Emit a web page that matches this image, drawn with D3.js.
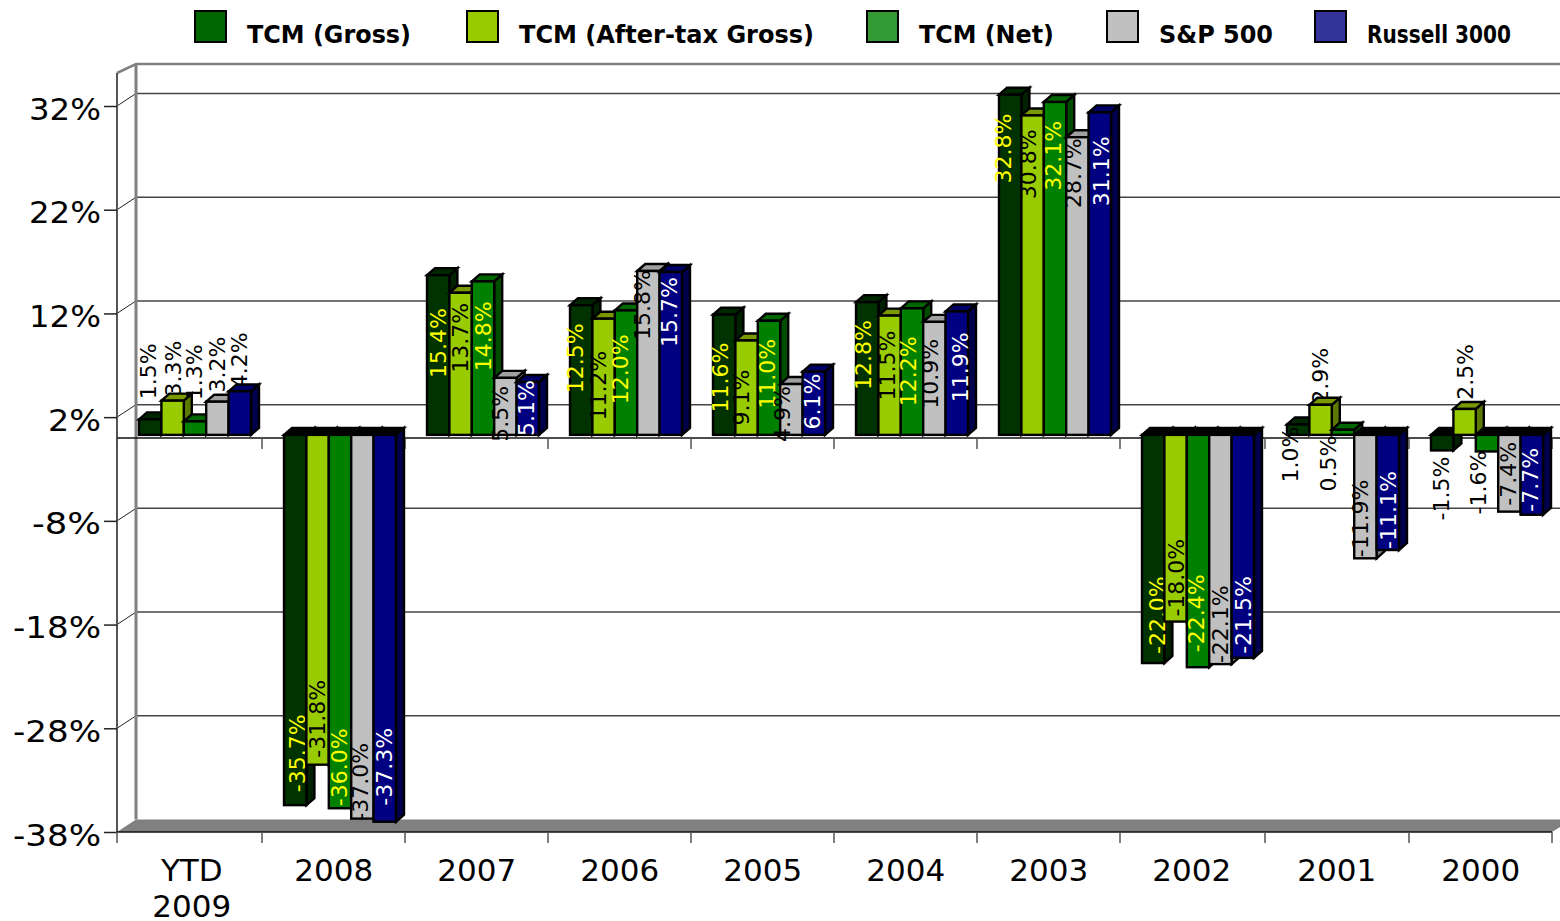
<!DOCTYPE html>
<html>
<head>
<meta charset="utf-8">
<script src="https://d3js.org/d3.v7.min.js"></script>
<style>
  html, body { margin: 0; padding: 0; background: #fff; overflow: hidden; }
  text { font-family: "DejaVu Sans", sans-serif; }
</style>
</head>
<body>
<svg id="chart" width="1560" height="921"></svg>
<script>
// data
const categories = ["YTD 2009", "2008", "2007", "2006", "2005", "2004", "2003", "2002", "2001", "2000"];
const seriesNames = ["TCM (Gross)", "TCM (After-tax Gross)", "TCM (Net)", "S&P 500", "Russell 3000"];
const tcmGross = [1.5, -35.7, 15.4, 12.5, 11.6, 12.8, 32.8, -22.0, 1.0, -1.5];
const tcmAfterTax = [3.3, -31.8, 13.7, 11.2, 9.1, 11.5, 30.8, -18.0, 2.9, 2.5];
const tcmNet = [1.3, -36.0, 14.8, 12.0, 11.0, 12.2, 32.1, -22.4, 0.5, -1.6];
const sp500 = [3.2, -37.0, 5.5, 15.8, 4.9, 10.9, 28.7, -22.1, -11.9, -7.4];
const russell3000 = [4.2, -37.3, 5.1, 15.7, 6.1, 11.9, 31.1, -21.5, -11.1, -7.7];
const seriesValues = [tcmGross, tcmAfterTax, tcmNet, sp500, russell3000];
const yTicks = [32, 22, 12, 2, -8, -18, -28, -38];

// colours per series
const legendColors = ["#006600", "#99cc00", "#339933", "#c0c0c0", "#333399"];
const frontColors = ["#003300", "#99cc00", "#008000", "#c0c0c0", "#000080"];
const sideColors = ["#002200", "#5c7a00", "#004d00", "#808080", "#00004d"];
const topColors = ["#002600", "#7a9900", "#006600", "#a0a0a0", "#000066"];
const labelColors = ["#ffff00", "#000", "#ffff00", "#000", "#fff"];
const legendX = [195, 467, 867, 1107, 1315];
const legendWidths = [164, 295, 135, 114, 144];

// left edge of each category on the axis, the source chart spaces them slightly unevenly
const categoryEdges = [117, 262, 405, 548, 691, 834, 977, 1120, 1265, 1409];
const axisEnd = 1552;
const bandWidth = 143.5;

// how far each label sits inside the bar end (negative = past the end), by category then series
const labelGaps = [
  [-76, -60, -77, -65, -59],
  [13, 7, 2, -2, 16],
  [33, 10, 20, 8, -2],
  [18, 32, 24, -1, 5],
  [28, 29, 18, 2, 2],
  [18, 15, 28, 17, 21],
  [19, 14, 19, 1, 24],
  [9, 5, 15, 1, 4],
  [2, -57, 6, 1, 1],
  [-70, -65, -63, 6, 3]
];
// sideways shift of each label from the bar centre
const labelShifts = [
  [-2, 0, -1, 0, -1],
  [2, -1, -1, -2, -1],
  [0, -1, 0, -5, -2],
  [-6, -6, -6, -6, -2],
  [-4, -6, -2, -9, -2],
  [-4, -3, -4, -4, 3],
  [-7, -5, -2, -4, 1],
  [4, 0, -2, 0, 0],
  [-8, -1, -15, -5, 0],
  [-1, 0, -9, -1, -2]
];

const svg = d3.select("#chart");

const wallDx = 19, wallDy = 12.5;   // floor / wall depth
const barDx = 8, barDy = 7;         // depth of a bar
const barLift = 3;

const x = d3.scaleOrdinal().domain(categories).range(categoryEdges);
const xInner = d3.scaleBand().domain(d3.range(seriesNames.length)).range([22, 134]);
const y = d3.scaleLinear().domain([-38, 32]).range([832, 106]);

const pts = a => a.map(p => p.join(",")).join(" ");

// walls
const walls = svg.append("g");
walls.append("polygon")
  .attr("points", pts([[117, y(-38)], [117 + wallDx, y(-38) - wallDy], [1560, y(-38) - wallDy], [1560, y(-38) - 5], [axisEnd, y(-38)]]))
  .attr("fill", "#808080");
walls.selectAll("line.grid").data(yTicks.slice(0, -1)).enter().append("line")
  .attr("class", "grid")
  .attr("x1", 117 + wallDx).attr("x2", 1560)
  .attr("y1", d => y(d) - wallDy).attr("y2", d => y(d) - wallDy)
  .attr("stroke", "#444").attr("stroke-width", 1.5);
walls.selectAll("line.slant").data(yTicks.slice(0, -1)).enter().append("line")
  .attr("class", "slant")
  .attr("x1", 117).attr("x2", 117 + wallDx)
  .attr("y1", d => y(d)).attr("y2", d => y(d) - wallDy)
  .attr("stroke", "#222").attr("stroke-width", 1);
walls.append("polyline")
  .attr("points", pts([[117, 73], [136, 64], [1560, 64]]))
  .attr("fill", "none").attr("stroke", "#808080").attr("stroke-width", 2.5);
walls.append("line")
  .attr("x1", 136).attr("x2", 136).attr("y1", 64).attr("y2", y(-38) - wallDy)
  .attr("stroke", "#808080").attr("stroke-width", 3);
walls.append("line")
  .attr("x1", 117).attr("x2", 117).attr("y1", 73).attr("y2", y(-38))
  .attr("stroke", "#555").attr("stroke-width", 2);

// y axis
const yAxis = svg.append("g").attr("transform", "translate(117,0)")
  .call(d3.axisLeft(y).tickValues(yTicks).tickSize(13).tickPadding(3).tickFormat(d => d + "%"));
yAxis.select(".domain").remove();
yAxis.selectAll("line").attr("stroke", "#222").attr("stroke-width", 1.5);
// source font has a wider hyphen and digits than DejaVu, so stretch to the measured widths
yAxis.selectAll("text").attr("font-size", 31).attr("dy", ".42em").attr("fill", "#000")
  .attr("textLength", d => 53 + (Math.abs(d) >= 10 ? 19 : 0) + (d < 0 ? 16 : 0))
  .attr("lengthAdjust", "spacingAndGlyphs")
  .style("font-family", '"DejaVu Sans", sans-serif');

// zero line and bottom line, with the category ticks on both
[y(0), y(-38)].forEach(lineY => {
  svg.append("line")
    .attr("x1", 117).attr("x2", lineY === y(0) ? 1560 : axisEnd).attr("y1", lineY).attr("y2", lineY)
    .attr("stroke", "#111").attr("stroke-width", 1.5);
  svg.selectAll(null).data(categoryEdges.concat([axisEnd])).enter().append("line")
    .attr("x1", d => d).attr("x2", d => d)
    .attr("y1", lineY).attr("y2", lineY + 11)
    .attr("stroke", "#555").attr("stroke-width", 1.5);
});

// category labels
const xLabels = svg.selectAll("text.cat").data(categories).enter().append("text")
  .attr("class", "cat")
  .attr("text-anchor", "middle")
  .attr("font-size", 31)
  .attr("fill", "#000");
xLabels.each(function(d) {
  d.split(" ").forEach((part, i) => {
    d3.select(this).append("tspan")
      .attr("x", x(d) + bandWidth / 2 + (d.includes(" ") ? 3 : 0))
      .attr("y", 881 + i * 36)
      .text(part);
  });
});

function addLabel(g, v, c, s, top, bottom) {
  const gap = labelGaps[c][s];
  const cx = x(categories[c]) + xInner(s) + xInner.bandwidth() / 2 + labelShifts[c][s];
  const negative = v < 0;
  const ly = negative ? bottom - gap : top + gap;
  const outside = gap < -20;
  g.append("text")
    .attr("transform", `translate(${cx},${ly}) rotate(-90)`)
    .attr("text-anchor", negative ? "start" : "end")
    .attr("dy", ".36em")
    .attr("font-size", 22)
    .attr("fill", outside || (v > 0 && v < 1.1) ? "#000" : labelColors[s])
    .text(v.toFixed(1) + "%");
}

// bars: category by category, each bar over the side of the one before
const bars = svg.append("g");
categories.forEach((cat, c) => {
  seriesValues.forEach((values, s) => {
    const v = values[c];
    const g = bars.append("g").attr("stroke", "#000").attr("stroke-width", 2.4).attr("stroke-linejoin", "miter");
    const x0 = x(cat) + xInner(s), x1 = x0 + xInner.bandwidth();
    const top = Math.min(y(v), y(0)) - barLift;
    const bottom = Math.max(y(v), y(0)) - barLift;
    const labelFirst = v > 0 && labelGaps[c][s] < -20;
    if (labelFirst) addLabel(g.append("g").attr("stroke", "none"), v, c, s, top, bottom);
    g.append("polygon")
      .attr("points", pts([[x1, top], [x1 + barDx, top - barDy], [x1 + barDx, bottom - barDy], [x1, bottom]]))
      .attr("fill", sideColors[s]);
    g.append("polygon")
      .attr("points", pts([[x0, top], [x0 + barDx, top - barDy], [x1 + barDx, top - barDy], [x1, top]]))
      .attr("fill", v < 0 ? "#000" : topColors[s]);
    g.append("rect")
      .attr("x", x0).attr("y", top).attr("width", x1 - x0).attr("height", bottom - top)
      .attr("fill", frontColors[s]);
    if (!labelFirst) addLabel(g.append("g").attr("stroke", "none"), v, c, s, top, bottom);
  });
});

// legend
const legend = svg.selectAll("g.legend").data(seriesNames).enter().append("g").attr("class", "legend");
legend.append("rect")
  .attr("x", (d, i) => legendX[i]).attr("y", 11)
  .attr("width", 31).attr("height", 31)
  .attr("fill", (d, i) => legendColors[i])
  .attr("stroke", "#000").attr("stroke-width", 2);
legend.append("text")
  .attr("x", (d, i) => legendX[i] + 52).attr("y", 43)
  .attr("font-size", 24).attr("font-weight", "bold").attr("fill", "#000")
  .attr("textLength", (d, i) => legendWidths[i])
  .attr("lengthAdjust", "spacingAndGlyphs")
  .text(d => d);
</script>
</body>
</html>
